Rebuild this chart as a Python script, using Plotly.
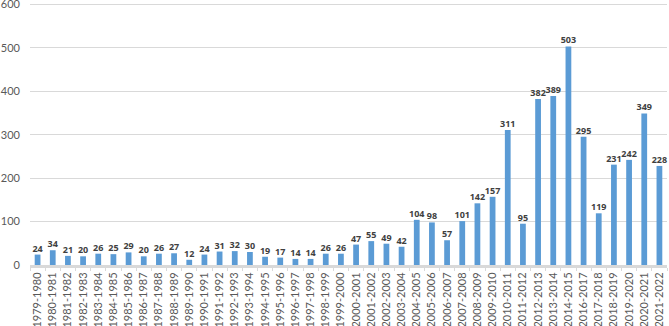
import plotly.graph_objects as go

categories = ["1979-1980","1980-1981","1981-1982","1982-1983","1983-1984","1984-1985","1985-1986",
              "1986-1987","1987-1988","1988-1989","1989-1990","1990-1991","1991-1992","1992-1993",
              "1993-1994","1994-1995","1995-1996","1996-1997","1997-1998","1998-1999","1999-2000",
              "2000-2001","2001-2002","2002-2003","2003-2004","2004-2005","2005-2006","2006-2007",
              "2007-2008","2008-2009","2009-2010","2010-2011","2011-2012","2012-2013","2013-2014",
              "2014-2015","2016-2017","2017-2018","2018-2019","2019-2020","2020-2021","2021-2022"]
values = [24, 34, 21, 20, 26, 25, 29, 20, 26, 27, 12, 24, 31, 32, 30, 19, 17, 14, 14, 26, 26,
          47, 55, 49, 42, 104, 98, 57, 101, 142, 157, 311, 95, 382, 389, 503, 295, 119, 231, 242, 349, 228]
y_ticks = [0, 100, 200, 300, 400, 500, 600]

fig = go.Figure(go.Bar(
    x=categories, y=values,
    marker=dict(color="#5B9BD5", line=dict(width=0)),
    text=[str(v) for v in values], textposition="outside",
    constraintext="none",
    textfont=dict(family="Open Sans", size=9, color="#404040", weight="bold"),
    cliponaxis=False,
))
fig.update_layout(
    width=669, height=326,
    margin=dict(l=30, r=2, t=0, b=61, autoexpand=False),
    paper_bgcolor="white", plot_bgcolor="white",
    bargap=0.62, showlegend=False,
    font=dict(family="Lato", color="#595959"),
)
fig.update_xaxes(
    tickangle=-90, tickfont=dict(family="Lato", size=11, color="#595959"),
    showline=True, linecolor="#D9D9D9", linewidth=3,
    ticks="outside", tickson="boundaries", ticklen=3, tickcolor="#D9D9D9",
    showgrid=False, automargin=False, ticklabeloverflow="allow",
)
fig.update_yaxes(
    range=[0, 610], tickvals=y_ticks, tickfont=dict(family="Lato", size=11, color="#595959"),
    showgrid=True, gridcolor="#D9D9D9", gridwidth=1, zeroline=False,
    ticks="", ticklabelstandoff=9, automargin=False, ticklabeloverflow="allow",
)
fig.write_html("out.html", config={"displayModeBar": False},
               post_script="document.body.style.margin='0';document.body.style.overflow='hidden';")
